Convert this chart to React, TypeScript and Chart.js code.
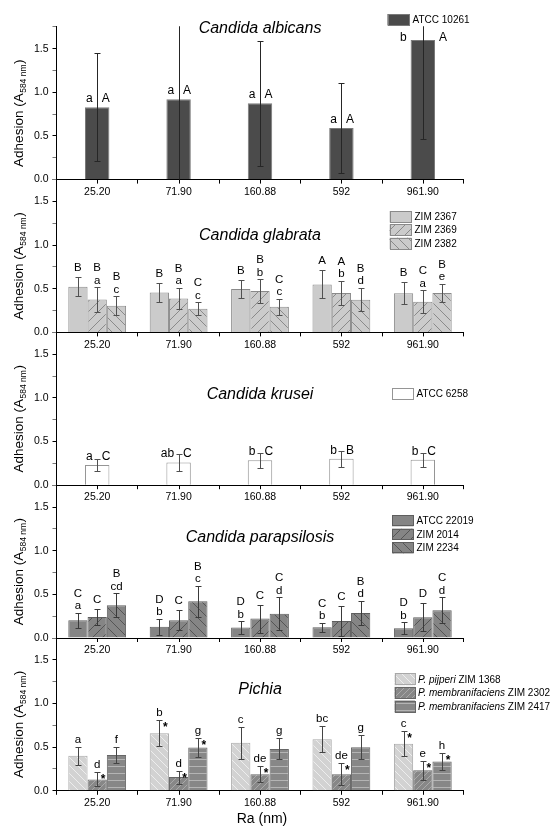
import React, { useEffect, useRef } from "react";
import { Chart, registerables } from "chart.js";

Chart.register(...registerables);

// ---------------- data ----------------
const categories = ["25.20", "71.90", "160.88", "592", "961.90"];

// Candida albicans
const albicansSeries = ["ATCC 10261"];
const albicansMean = [0.83, 0.92, 0.875, 0.59, 1.6];
const albicansSD = [0.62, 0.95, 0.715, 0.52, 1.14];
const albicansLetterLow = ["a", "a", "a", "a", "b"];
const albicansLetterCap = ["A", "A", "A", "A", "A"];

// Candida glabrata
const glabrataSeries = ["ZIM 2367", "ZIM 2369", "ZIM 2382"];
const glabrata2367Mean = [0.523, 0.458, 0.497, 0.55, 0.447];
const glabrata2369Mean = [0.378, 0.389, 0.474, 0.451, 0.352];
const glabrata2382Mean = [0.306, 0.271, 0.294, 0.375, 0.451];
const glabrata2367SD = [0.11, 0.11, 0.105, 0.16, 0.125];
const glabrata2369SD = [0.14, 0.12, 0.135, 0.14, 0.13];
const glabrata2382SD = [0.11, 0.075, 0.09, 0.135, 0.105];
const glabrata2367Cap = ["B", "B", "B", "A", "B"];
const glabrata2369Cap = ["B", "B", "B", "A", "C"];
const glabrata2382Cap = ["B", "C", "C", "B", "B"];
const glabrata2367Low = ["", "", "", "", ""];
const glabrata2369Low = ["a", "a", "b", "b", "a"];
const glabrata2382Low = ["c", "c", "c", "d", "e"];

// Candida krusei
const kruseiSeries = ["ATCC 6258"];
const kruseiMean = [0.23, 0.26, 0.287, 0.302, 0.291];
const kruseiSD = [0.07, 0.1, 0.085, 0.09, 0.077];
const kruseiLetterLow = ["a", "ab", "b", "b", "b"];
const kruseiLetterCap = ["C", "C", "C", "B", "C"];

// Candida parapsilosis
const parapsilosisSeries = ["ATCC 22019", "ZIM 2014", "ZIM 2234"];
const para22019Mean = [0.203, 0.13, 0.119, 0.123, 0.111];
const para2014Mean = [0.241, 0.203, 0.222, 0.195, 0.237];
const para2234Mean = [0.375, 0.42, 0.279, 0.287, 0.317];
const para22019SD = [0.085, 0.09, 0.075, 0.05, 0.07];
const para2014SD = [0.09, 0.115, 0.16, 0.17, 0.16];
const para2234SD = [0.135, 0.18, 0.185, 0.14, 0.15];
const para22019Cap = ["C", "D", "D", "C", "D"];
const para2014Cap = ["C", "C", "C", "C", "D"];
const para2234Cap = ["B", "B", "C", "B", "C"];
const para22019Low = ["a", "b", "b", "b", "b"];
const para2014Low = ["", "", "", "", ""];
const para2234Low = ["cd", "c", "d", "d", "d"];

// Pichia
const pichiaSeries = ["P. pijperi ZIM 1368", "P. membranifaciens ZIM 2302", "P. membranifaciens ZIM 2417"];
const pijperi1368Mean = [0.4, 0.66, 0.55, 0.59, 0.54];
const membr2302Mean = [0.13, 0.157, 0.19, 0.19, 0.235];
const membr2417Mean = [0.41, 0.497, 0.48, 0.5, 0.335];
const pijperi1368SD = [0.1, 0.15, 0.185, 0.15, 0.14];
const membr2302SD = [0.08, 0.075, 0.09, 0.125, 0.11];
const membr2417SD = [0.09, 0.11, 0.12, 0.14, 0.095];
const pijperi1368Letter = ["a", "b", "c", "bc", "c"];
const membr2302Letter = ["d", "d", "de", "de", "e"];
const membr2417Letter = ["f", "g", "g", "g", "h"];
const pijperi1368Star = [0, 1, 0, 0, 1];
const membr2302Star = [1, 1, 1, 1, 1];
const membr2417Star = [0, 1, 0, 0, 1];

const yAxisMax = 1.75;
const yTickStep = 0.25;

// ---------------- layout / style ----------------
const W = 555;
const H = 831;
const PLOT_LEFT = 56.5;
const PLOT_RIGHT = 463.5;
const PANEL_TOP0 = 26.8;
const PANEL_H = 152.8;
const FONT = '"Liberation Sans", Arial, Helvetica, sans-serif';

type FillStyle = { bg: string; line?: string; kind?: string; size?: number; lw?: number; border: string };

type PanelCfg = {
  key: string;
  title: string;
  titleY: number;
  series: string[];
  means: number[][];
  sds: number[][];
  mode: "side" | "stack" | "single";
  low?: string[][];
  cap?: string[][];
  stars?: number[][];
  styles: FillStyle[];
  errColor: string;
  catPct: number;
  legend: { x: number; y: number; w: number; h: number; step: number };
  italicLegend?: boolean;
  xTitle?: string;
};

const panels: PanelCfg[] = [
  {
    key: "albicans",
    title: "Candida albicans",
    titleY: 29,
    series: albicansSeries,
    means: [albicansMean],
    sds: [albicansSD],
    mode: "side",
    low: [albicansLetterLow],
    cap: [albicansLetterCap],
    styles: [{ bg: "#4b4b4b", border: "#7a7a7a" }],
    errColor: "#262626",
    catPct: 0.3,
    legend: { x: 387.5, y: 14, w: 22, h: 11.5, step: 13.4 },
  },
  {
    key: "glabrata",
    title: "Candida glabrata",
    titleY: 235.7,
    series: glabrataSeries,
    means: [glabrata2367Mean, glabrata2369Mean, glabrata2382Mean],
    sds: [glabrata2367SD, glabrata2369SD, glabrata2382SD],
    mode: "stack",
    low: [glabrata2367Low, glabrata2369Low, glabrata2382Low],
    cap: [glabrata2367Cap, glabrata2369Cap, glabrata2382Cap],
    styles: [
      { bg: "#cbcbcb", border: "#8a8a8a" },
      { bg: "#cbcbcb", line: "#8a8a8a", kind: "/", size: 10, lw: 1, border: "#8a8a8a" },
      { bg: "#cbcbcb", line: "#8a8a8a", kind: "\\", size: 10, lw: 1, border: "#8a8a8a" },
    ],
    errColor: "#505050",
    catPct: 0.71,
    legend: { x: 389.5, y: 211, w: 22, h: 11.5, step: 13.3 },
  },
  {
    key: "krusei",
    title: "Candida krusei",
    titleY: 394.3,
    series: kruseiSeries,
    means: [kruseiMean],
    sds: [kruseiSD],
    mode: "side",
    low: [kruseiLetterLow],
    cap: [kruseiLetterCap],
    styles: [{ bg: "#ffffff", border: "#959595" }],
    errColor: "#505050",
    catPct: 0.3,
    legend: { x: 392, y: 388.3, w: 21.5, h: 11.5, step: 13.4 },
  },
  {
    key: "parapsilosis",
    title: "Candida parapsilosis",
    titleY: 537.7,
    series: parapsilosisSeries,
    means: [para22019Mean, para2014Mean, para2234Mean],
    sds: [para22019SD, para2014SD, para2234SD],
    mode: "stack",
    low: [para22019Low, para2014Low, para2234Low],
    cap: [para22019Cap, para2014Cap, para2234Cap],
    styles: [
      { bg: "#858585", border: "#5e5e5e" },
      { bg: "#858585", line: "#555555", kind: "/", size: 10, lw: 1, border: "#5e5e5e" },
      { bg: "#858585", line: "#555555", kind: "\\", size: 10, lw: 1, border: "#5e5e5e" },
    ],
    errColor: "#3a3a3a",
    catPct: 0.71,
    legend: { x: 392, y: 515, w: 21.5, h: 11.3, step: 13.6 },
  },
  {
    key: "pichia",
    title: "Pichia",
    titleY: 689.3,
    series: pichiaSeries,
    means: [pijperi1368Mean, membr2302Mean, membr2417Mean],
    sds: [pijperi1368SD, membr2302SD, membr2417SD],
    mode: "single",
    low: [pijperi1368Letter, membr2302Letter, membr2417Letter],
    stars: [pijperi1368Star, membr2302Star, membr2417Star],
    styles: [
      { bg: "#d2d2d2", line: "#ededed", kind: "\\", size: 8, lw: 1, border: "#a8a8a8" },
      { bg: "#878787", line: "#a9a9a9", kind: "/", size: 6, lw: 1, border: "#666666" },
      { bg: "#878787", line: "#b4b4b4", kind: "-", size: 7, lw: 1, border: "#666666" },
    ],
    errColor: "#444444",
    catPct: 0.71,
    legend: { x: 394.5, y: 673.3, w: 20.5, h: 12, step: 13.6 },
    italicLegend: true,
    xTitle: "Ra (nm)",
  },
];

function makeFill(ctx: CanvasRenderingContext2D, s: FillStyle): any {
  if (!s.kind) return s.bg;
  const size = s.size || 8;
  const c = document.createElement("canvas");
  c.width = size;
  c.height = size;
  const g = c.getContext("2d")!;
  g.fillStyle = s.bg;
  g.fillRect(0, 0, size, size);
  g.strokeStyle = s.line || "#000";
  g.lineWidth = s.lw || 1;
  g.beginPath();
  if (s.kind === "/") {
    g.moveTo(0, size);
    g.lineTo(size, 0);
    g.moveTo(-2, 2);
    g.lineTo(2, -2);
    g.moveTo(size - 2, size + 2);
    g.lineTo(size + 2, size - 2);
  } else if (s.kind === "\\") {
    g.moveTo(0, 0);
    g.lineTo(size, size);
    g.moveTo(size - 2, -2);
    g.lineTo(size + 2, 2);
    g.moveTo(-2, size - 2);
    g.lineTo(2, size + 2);
  } else {
    g.moveTo(0, size / 2);
    g.lineTo(size, size / 2);
  }
  g.stroke();
  return ctx.createPattern(c, "repeat");
}

function decor(cfg: PanelCfg, fills: any[]) {
  return {
    id: "decor_" + cfg.key,
    afterDatasetsDraw(chart: any) {
      const { ctx, chartArea: a, scales } = chart;
      const y = scales.y;
      const x = scales.x;
      // error bars (clipped to plot area)
      ctx.save();
      ctx.beginPath();
      ctx.rect(a.left, a.top - 0.5, a.right - a.left, a.bottom - a.top + 1);
      ctx.clip();
      ctx.strokeStyle = cfg.errColor;
      ctx.lineWidth = 1;
      cfg.means.forEach((arr, d) => {
        const meta = chart.getDatasetMeta(d);
        arr.forEach((m, i) => {
          const el = meta.data[i];
          const px = Math.round(el.x) + 0.5;
          const sd = cfg.sds[d][i];
          const yt = Math.round(y.getPixelForValue(m + sd)) + 0.5;
          const yb = Math.round(y.getPixelForValue(m - sd)) + 0.5;
          ctx.beginPath();
          ctx.moveTo(px, yt);
          ctx.lineTo(px, yb);
          ctx.moveTo(px - 3, yt);
          ctx.lineTo(px + 3, yt);
          ctx.moveTo(px - 3, yb);
          ctx.lineTo(px + 3, yb);
          ctx.stroke();
        });
      });
      ctx.restore();

      // letters
      ctx.save();
      ctx.fillStyle = "#000";
      cfg.means.forEach((arr, d) => {
        const meta = chart.getDatasetMeta(d);
        arr.forEach((m, i) => {
          const el = meta.data[i];
          const px = el.x;
          const sd = cfg.sds[d][i];
          const errTop = y.getPixelForValue(m + sd);
          if (cfg.mode === "side") {
            const barTop = el.y;
            const halfW = el.width / 2;
            const nearTop = barTop - 16 < a.top;
            const gap = nearTop ? halfW + 4 : 4.5;
            const base = nearTop ? barTop + 1 : barTop - 5;
            ctx.font = `12px ${FONT}`;
            ctx.textBaseline = "alphabetic";
            ctx.textAlign = "right";
            ctx.fillText(cfg.low![d][i], px - gap, base);
            ctx.textAlign = "left";
            ctx.fillText(cfg.cap![d][i], px + gap, base);
          } else if (cfg.mode === "stack") {
            ctx.font = `11.5px ${FONT}`;
            ctx.textAlign = "center";
            ctx.textBaseline = "alphabetic";
            const base = errTop - 3.5;
            const lo = cfg.low![d][i];
            if (lo) {
              ctx.fillText(lo, px, base);
              ctx.fillText(cfg.cap![d][i], px, base - 12.5);
            } else {
              ctx.fillText(cfg.cap![d][i], px, base - 2.5);
            }
          } else {
            ctx.font = `11.5px ${FONT}`;
            ctx.textAlign = "center";
            ctx.textBaseline = "alphabetic";
            ctx.fillText(cfg.low![d][i], px, errTop - 4);
            if (cfg.stars![d][i]) {
              ctx.font = `bold 12px ${FONT}`;
              ctx.fillText("*", px + 6, errTop + 11);
            }
          }
        });
      });
      ctx.restore();

      // centre ticks on x axis
      ctx.save();
      ctx.strokeStyle = "#000";
      ctx.lineWidth = 1;
      categories.forEach((_, i) => {
        const px = Math.round(x.getPixelForValue(i)) + 0.5;
        ctx.beginPath();
        ctx.moveTo(px, a.bottom);
        ctx.lineTo(px, a.bottom + 4);
        ctx.stroke();
      });
      ctx.restore();
    },
    afterDraw(chart: any) {
      const { ctx, chartArea: a } = chart;
      ctx.save();
      // title
      ctx.fillStyle = "#000";
      ctx.font = `italic 16px ${FONT}`;
      ctx.textAlign = "center";
      ctx.textBaseline = "middle";
      ctx.fillText(cfg.title, (a.left + a.right) / 2, cfg.titleY);

      // legend
      const L = cfg.legend;
      cfg.series.forEach((name, d) => {
        const bx = L.x;
        const by = L.y + d * L.step;
        ctx.fillStyle = fills[d];
        ctx.fillRect(bx, by, L.w, L.h);
        ctx.strokeStyle = cfg.styles[d].border;
        ctx.lineWidth = 1;
        ctx.strokeRect(Math.round(bx) + 0.5, Math.round(by) + 0.5, Math.round(L.w) - 1, Math.round(L.h) - 1);
        ctx.fillStyle = "#000";
        ctx.textAlign = "left";
        ctx.textBaseline = "middle";
        let tx = bx + L.w + 3;
        const ty = by + L.h / 2 + 0.5;
        if (cfg.italicLegend) {
          const k = name.indexOf(" ZIM");
          const it = name.slice(0, k);
          const rest = name.slice(k);
          ctx.font = `italic 10px ${FONT}`;
          ctx.fillText(it, tx, ty);
          tx += ctx.measureText(it).width;
          ctx.font = `10px ${FONT}`;
          ctx.fillText(rest, tx, ty);
        } else {
          ctx.font = `10px ${FONT}`;
          ctx.fillText(name, tx, ty);
        }
      });

      // y axis title with subscript
      const main1 = "Adhesion (A";
      const sub = "584 nm";
      const main2 = ")";
      ctx.font = `13.5px ${FONT}`;
      const w1 = ctx.measureText(main1).width;
      const w3 = ctx.measureText(main2).width;
      ctx.font = `8.5px ${FONT}`;
      const w2 = ctx.measureText(sub).width;
      const total = w1 + w2 + w3 + 1;
      const cy = (a.top + a.bottom) / 2 + 10;
      ctx.translate(19.5, cy);
      ctx.rotate(-Math.PI / 2);
      ctx.textAlign = "left";
      ctx.textBaseline = "middle";
      let sx = -total / 2;
      ctx.font = `13.5px ${FONT}`;
      ctx.fillText(main1, sx, 0);
      sx += w1 + 0.5;
      ctx.font = `8.5px ${FONT}`;
      ctx.fillText(sub, sx, 4);
      sx += w2 + 0.5;
      ctx.font = `13.5px ${FONT}`;
      ctx.fillText(main2, sx, 0);
      ctx.restore();

      if (cfg.xTitle) {
        ctx.save();
        ctx.fillStyle = "#000";
        ctx.font = `14px ${FONT}`;
        ctx.textAlign = "center";
        ctx.textBaseline = "middle";
        ctx.fillText(cfg.xTitle, 262, 819);
        ctx.restore();
      }
    },
  };
}

function Panel({ cfg, index }: { cfg: PanelCfg; index: number }) {
  const ref = useRef<HTMLCanvasElement>(null);
  useEffect(() => {
    const canvas = ref.current!;
    const ctx = canvas.getContext("2d")!;
    const fills = cfg.styles.map((s) => makeFill(ctx, s));
    const top = PANEL_TOP0 + index * PANEL_H;
    const bottom = top + PANEL_H;
    const chart = new Chart(canvas, {
      type: "bar",
      data: {
        labels: categories,
        datasets: cfg.series.map((name, d) => ({
          label: name,
          data: cfg.means[d],
          backgroundColor: fills[d],
          borderColor: cfg.styles[d].border,
          borderWidth: 1,
          categoryPercentage: cfg.catPct,
          barPercentage: 1,
        })),
      },
      options: {
        responsive: false,
        animation: false,
        devicePixelRatio: 1,
        events: [],
        layout: {
          padding: { left: 0, top: top, right: W - PLOT_RIGHT, bottom: H - bottom - 20 },
        },
        plugins: { legend: { display: false }, tooltip: { enabled: false }, title: { display: false } },
        scales: {
          x: {
            type: "category",
            offset: true,
            grid: { offset: true, drawOnChartArea: false, drawTicks: true, tickLength: 4, color: "#000" },
            border: { color: "#000", width: 1 },
            ticks: { color: "#000", font: { family: FONT, size: 10.5 }, padding: 2, maxRotation: 0, autoSkip: false },
            afterFit: (s: any) => {
              s.height = 20;
            },
          },
          y: {
            min: 0,
            max: yAxisMax,
            grid: {
              drawOnChartArea: false,
              drawTicks: true,
              tickLength: 4,
              color: "#000",
              tickColor: (c: any) => {
                const v = c.tick ? c.tick.value : 0;
                return Math.abs(v * 2 - Math.round(v * 2)) < 1e-6 ? "#000" : "#777";
              },
            },
            border: { color: "#000", width: 1 },
            ticks: {
              stepSize: yTickStep,
              color: "#000",
              font: { family: FONT, size: 10.5 },
              padding: 4,
              callback: (v: any) => {
                const n = Number(v);
                return Math.abs(n * 2 - Math.round(n * 2)) < 1e-6 && n < 1.7 ? n.toFixed(1) : "";
              },
            },
            afterFit: (s: any) => {
              s.width = PLOT_LEFT;
            },
          },
        },
      } as any,
      plugins: [decor(cfg, fills)],
    });
    return () => chart.destroy();
  }, []);
  return (
    <canvas
      ref={ref}
      width={W}
      height={H}
      style={{ position: "absolute", left: 0, top: 0, width: W, height: H }}
    />
  );
}

export default function App() {
  return (
    <div style={{ position: "absolute", left: 0, top: 0, width: W, height: H, background: "#fff" }}>
      {panels.map((p, i) => (
        <Panel key={p.key} cfg={p} index={i} />
      ))}
    </div>
  );
}
